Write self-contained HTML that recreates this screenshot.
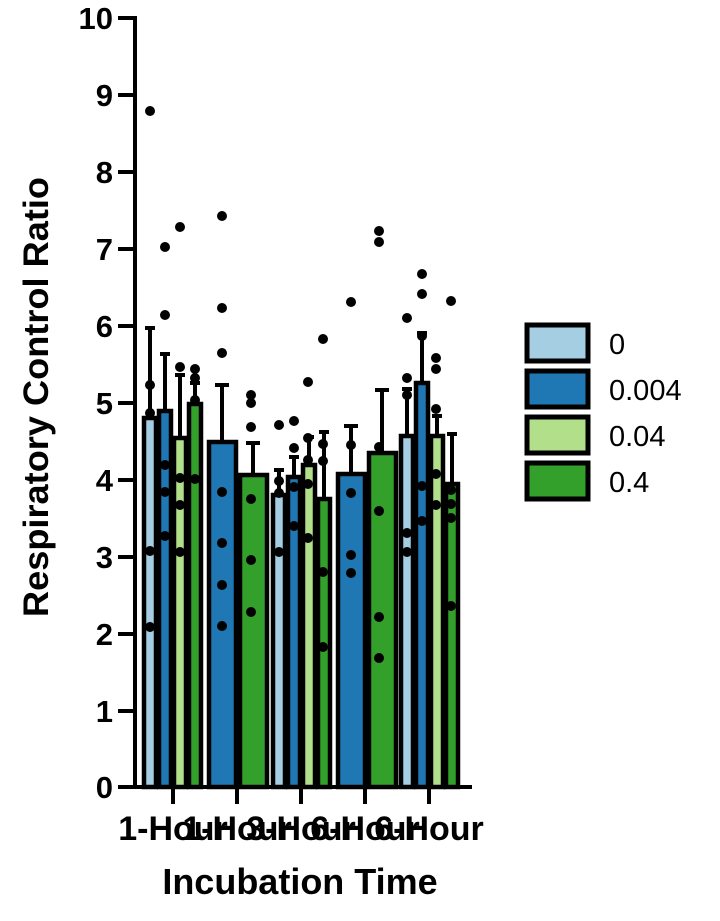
<!DOCTYPE html>
<html><head><meta charset="utf-8"><style>
html,body{margin:0;padding:0;background:#fff;}
svg{display:block;font-family:"Liberation Sans",Arial,sans-serif;}
</style></head><body>
<svg width="720" height="921" viewBox="0 0 720 921" xmlns="http://www.w3.org/2000/svg">
<g stroke="#000" stroke-width="4">
<g>
<line x1="150" y1="418" x2="150" y2="328"/><line x1="145" y1="328" x2="155" y2="328"/>
<line x1="165" y1="411" x2="165" y2="354"/><line x1="160" y1="354" x2="170" y2="354"/>
<line x1="180" y1="438" x2="180" y2="375"/><line x1="175" y1="375" x2="185" y2="375"/>
<line x1="195" y1="404" x2="195" y2="383"/><line x1="190" y1="383" x2="200" y2="383"/>
<line x1="222" y1="442" x2="222" y2="385"/><line x1="215" y1="385" x2="229" y2="385"/>
<line x1="253" y1="475" x2="253" y2="443"/><line x1="246" y1="443" x2="260" y2="443"/>
<line x1="279" y1="495" x2="279" y2="470"/><line x1="274" y1="470" x2="284" y2="470"/>
<line x1="294" y1="477" x2="294" y2="457"/><line x1="289" y1="457" x2="299" y2="457"/>
<line x1="309" y1="465" x2="309" y2="437"/><line x1="304" y1="437" x2="314" y2="437"/>
<line x1="324" y1="499" x2="324" y2="432"/><line x1="319" y1="432" x2="329" y2="432"/>
<line x1="351" y1="474" x2="351" y2="426"/><line x1="344" y1="426" x2="358" y2="426"/>
<line x1="382" y1="453" x2="382" y2="390"/><line x1="375" y1="390" x2="389" y2="390"/>
<line x1="407" y1="436" x2="407" y2="389"/><line x1="402" y1="389" x2="412" y2="389"/>
<line x1="422" y1="383" x2="422" y2="333"/><line x1="417" y1="333" x2="427" y2="333"/>
<line x1="437" y1="436" x2="437" y2="416"/><line x1="432" y1="416" x2="442" y2="416"/>
<line x1="452" y1="484" x2="452" y2="434"/><line x1="447" y1="434" x2="457" y2="434"/>
</g>
<g stroke-width="4.5">
<rect x="144" y="418" width="12" height="369" fill="#a6cee3"/>
<rect x="159" y="411" width="12" height="376" fill="#1f78b4"/>
<rect x="174" y="438" width="12" height="349" fill="#b2df8a"/>
<rect x="189" y="404" width="12" height="383" fill="#33a02c"/>
<rect x="209" y="442" width="27" height="345" fill="#1f78b4"/>
<rect x="240" y="475" width="27" height="312" fill="#33a02c"/>
<rect x="273" y="495" width="12" height="292" fill="#a6cee3"/>
<rect x="288" y="477" width="12" height="310" fill="#1f78b4"/>
<rect x="303" y="465" width="12" height="322" fill="#b2df8a"/>
<rect x="318" y="499" width="12" height="288" fill="#33a02c"/>
<rect x="338" y="474" width="27" height="313" fill="#1f78b4"/>
<rect x="369" y="453" width="27" height="334" fill="#33a02c"/>
<rect x="401" y="436" width="12" height="351" fill="#a6cee3"/>
<rect x="416" y="383" width="12" height="404" fill="#1f78b4"/>
<rect x="431" y="436" width="12" height="351" fill="#b2df8a"/>
<rect x="446" y="484" width="12" height="303" fill="#33a02c"/>
</g>
<line x1="135" y1="16" x2="135" y2="789"/>
<line x1="133" y1="787" x2="472" y2="787"/>
<g>
<line x1="118" y1="18" x2="135" y2="18"/><line x1="118" y1="95" x2="135" y2="95"/>
<line x1="118" y1="172" x2="135" y2="172"/><line x1="118" y1="249" x2="135" y2="249"/>
<line x1="118" y1="326" x2="135" y2="326"/><line x1="118" y1="403" x2="135" y2="403"/>
<line x1="118" y1="480" x2="135" y2="480"/><line x1="118" y1="557" x2="135" y2="557"/>
<line x1="118" y1="634" x2="135" y2="634"/><line x1="118" y1="711" x2="135" y2="711"/>
<line x1="118" y1="787" x2="135" y2="787"/>
<line x1="173" y1="787" x2="173" y2="804"/><line x1="237" y1="787" x2="237" y2="804"/>
<line x1="301" y1="787" x2="301" y2="804"/><line x1="365" y1="787" x2="365" y2="804"/>
<line x1="429" y1="787" x2="429" y2="804"/>
</g>
</g>
<g fill="#000">
<circle cx="150" cy="111" r="5"/><circle cx="150" cy="385" r="5"/><circle cx="150" cy="413" r="5"/><circle cx="150" cy="551" r="5"/><circle cx="150" cy="627" r="5"/>
<circle cx="165" cy="247" r="5"/><circle cx="165" cy="315" r="5"/><circle cx="165" cy="465" r="5"/><circle cx="165" cy="492" r="5"/><circle cx="165" cy="536" r="5"/>
<circle cx="180" cy="227" r="5"/><circle cx="180" cy="367" r="5"/><circle cx="180" cy="478" r="5"/><circle cx="180" cy="505" r="5"/><circle cx="180" cy="552" r="5"/>
<circle cx="195" cy="369" r="5"/><circle cx="195" cy="378" r="5"/><circle cx="195" cy="400" r="5"/><circle cx="195" cy="479" r="5"/>
<circle cx="222" cy="216" r="5"/><circle cx="222" cy="308" r="5"/><circle cx="222" cy="353" r="5"/><circle cx="222" cy="492" r="5"/><circle cx="222" cy="543" r="5"/><circle cx="222" cy="585" r="5"/><circle cx="222" cy="626" r="5"/>
<circle cx="251" cy="395" r="5"/><circle cx="251" cy="403" r="5"/><circle cx="251" cy="427" r="5"/><circle cx="251" cy="499" r="5"/><circle cx="251" cy="560" r="5"/><circle cx="251" cy="612" r="5"/>
<circle cx="279" cy="425" r="5"/><circle cx="279" cy="481" r="5"/><circle cx="279" cy="493" r="5"/><circle cx="279" cy="552" r="5"/>
<circle cx="294" cy="421" r="5"/><circle cx="294" cy="448" r="5"/><circle cx="294" cy="487" r="5"/><circle cx="294" cy="526" r="5"/>
<circle cx="308" cy="382" r="5"/><circle cx="308" cy="438" r="5"/><circle cx="308" cy="460" r="5"/><circle cx="308" cy="484" r="5"/><circle cx="308" cy="538" r="5"/>
<circle cx="323" cy="339" r="5"/><circle cx="323" cy="444" r="5"/><circle cx="323" cy="461" r="5"/><circle cx="323" cy="572" r="5"/><circle cx="323" cy="647" r="5"/>
<circle cx="351" cy="302" r="5"/><circle cx="351" cy="445" r="5"/><circle cx="351" cy="493" r="5"/><circle cx="351" cy="555" r="5"/><circle cx="351" cy="573" r="5"/>
<circle cx="379" cy="231" r="5"/><circle cx="379" cy="242" r="5"/><circle cx="379" cy="447" r="5"/><circle cx="379" cy="511" r="5"/><circle cx="379" cy="617" r="5"/><circle cx="379" cy="658" r="5"/>
<circle cx="407" cy="318" r="5"/><circle cx="407" cy="378" r="5"/><circle cx="407" cy="395" r="5"/><circle cx="407" cy="533" r="5"/><circle cx="407" cy="552" r="5"/>
<circle cx="422" cy="274" r="5"/><circle cx="422" cy="294" r="5"/><circle cx="422" cy="336" r="5"/><circle cx="422" cy="486" r="5"/><circle cx="422" cy="521" r="5"/>
<circle cx="436" cy="358" r="5"/><circle cx="436" cy="369" r="5"/><circle cx="436" cy="409" r="5"/><circle cx="436" cy="474" r="5"/><circle cx="436" cy="505" r="5"/>
<circle cx="451" cy="301" r="5"/><circle cx="451" cy="490" r="5"/><circle cx="451" cy="504" r="5"/><circle cx="451" cy="518" r="5"/><circle cx="451" cy="606" r="5"/>
</g>
<g font-size="31" font-weight="bold" text-anchor="end" fill="#000">
<text x="113" y="29">10</text><text x="113" y="106">9</text><text x="113" y="183">8</text>
<text x="113" y="260">7</text><text x="113" y="337">6</text><text x="113" y="414">5</text>
<text x="113" y="491">4</text><text x="113" y="568">3</text><text x="113" y="645">2</text>
<text x="113" y="722">1</text><text x="113" y="798">0</text>
</g>
<g font-size="34" font-weight="bold" text-anchor="middle" fill="#000">
<text x="173" y="840">1-Hour</text><text x="237" y="840">1-Hour</text>
<text x="301" y="840">3-Hour</text><text x="365" y="840">6-Hour</text>
<text x="429" y="840">6-Hour</text>
</g>
<text x="300" y="894" font-size="36" font-weight="bold" text-anchor="middle">Incubation Time</text>
<text transform="translate(48,397) rotate(-90)" font-size="35" font-weight="bold" text-anchor="middle" textLength="440" lengthAdjust="spacingAndGlyphs">Respiratory Control Ratio</text>
<g stroke="#000" stroke-width="5">
<rect x="527" y="325" width="61" height="36" fill="#a6cee3"/>
<rect x="527" y="371" width="61" height="36" fill="#1f78b4"/>
<rect x="527" y="417" width="61" height="36" fill="#b2df8a"/>
<rect x="527" y="463" width="61" height="36" fill="#33a02c"/>
</g>
<g font-size="29" fill="#000">
<text x="609" y="354">0</text><text x="609" y="400">0.004</text>
<text x="609" y="446">0.04</text><text x="609" y="492">0.4</text>
</g>
</svg>
</body></html>
